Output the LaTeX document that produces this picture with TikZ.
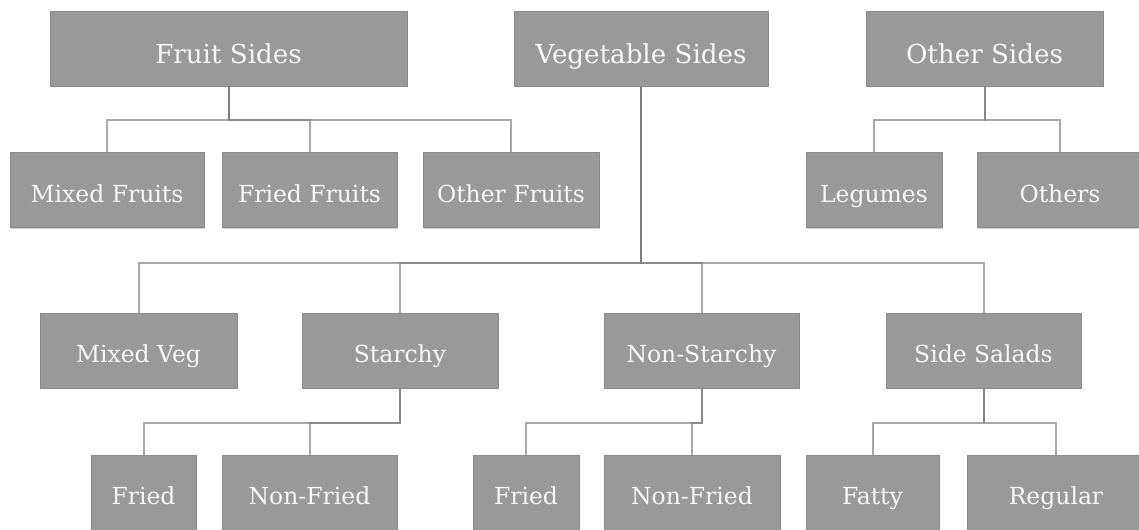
\documentclass[tikz,border=0pt]{standalone}
\usepackage{fontspec}
\setmainfont{DejaVu Serif}
\usetikzlibrary{shadows}
\definecolor{boxfill}{HTML}{999999}
\definecolor{boxedge}{HTML}{8A8A8A}
\definecolor{conncol}{HTML}{7A7A7A}
\definecolor{txt}{HTML}{F7F7F7}
\tikzset{
  box/.style={draw=boxedge, line width=0.6pt, fill=boxfill, text=txt, inner sep=0pt,
    minimum height=56.25pt, text height=18pt, text depth=0pt,
    font=\fontsize{17.6}{20}\selectfont,
    drop shadow={opacity=0.35, shadow xshift=0.8pt, shadow yshift=-0.8pt}},
  topbox/.style={box, text height=21.8pt, font=\fontsize{19.6}{22}\selectfont},
  conn/.style={draw=conncol, line width=1.5pt, draw opacity=0.65}
}
\begin{document}
\begin{tikzpicture}[x=0.75pt,y=-0.75pt]
\useasboundingbox (0,0) rectangle (1139,529);
\clip (0,0) rectangle (1139,529);
% top level
\node[topbox, minimum width=267.75pt] (FS) at (228.5,48.5) {Fruit Sides};
\node[topbox, minimum width=190.5pt] (VS) at (641,48.5) {Vegetable Sides};
\node[topbox, minimum width=177.75pt] (OS) at (984.5,48.5) {Other Sides};
% second row
\node[box, minimum width=145.5pt] (MF) at (107,190) {Mixed Fruits};
\node[box, minimum width=131.25pt] (FF) at (309.5,190) {Fried Fruits};
\node[box, minimum width=132pt] (OF) at (511,190) {Other Fruits};
\node[box, minimum width=102pt] (LG) at (874,190) {Legumes};
\node[box, minimum width=124.5pt] (OT) at (1060,190) {Others};
% third row
\node[box, minimum width=147.75pt] (MV) at (138.5,350.5) {Mixed Veg};
\node[box, minimum width=147pt] (ST) at (400,350.5) {Starchy};
\node[box, minimum width=146.25pt] (NS) at (701.5,350.5) {Non-Starchy};
\node[box, minimum width=146.25pt] (SS) at (983.5,350.5) {Side Salads};
% fourth row
\node[box, minimum width=78.75pt] (F1) at (143.5,492.5) {Fried};
\node[box, minimum width=131.25pt] (N1) at (309.5,492.5) {Non-Fried};
\node[box, minimum width=79.5pt] (F2) at (526,492.5) {Fried};
\node[box, minimum width=132pt] (N2) at (692,492.5) {Non-Fried};
\node[box, minimum width=99.75pt] (FT) at (872.5,492.5) {Fatty};
\node[box, minimum width=133.5pt] (RG) at (1056,492.5) {Regular};
% connectors
\foreach \c in {MF,FF,OF} \draw[conn] (FS.south) -- ++(0,34) -| (\c.north);
\foreach \c in {LG,OT} \draw[conn] (OS.south) -- ++(0,34) -| (\c.north);
\foreach \c in {MV,ST,NS,SS} \draw[conn] (VS.south) -- ++(0,177) -| (\c.north);
\foreach \c in {F1,N1} \draw[conn] (ST.south) -- ++(0,35) -| (\c.north);
\foreach \c in {F2,N2} \draw[conn] (NS.south) -- ++(0,35) -| (\c.north);
\foreach \c in {FT,RG} \draw[conn] (SS.south) -- ++(0,35) -| (\c.north);
\end{tikzpicture}
\end{document}
